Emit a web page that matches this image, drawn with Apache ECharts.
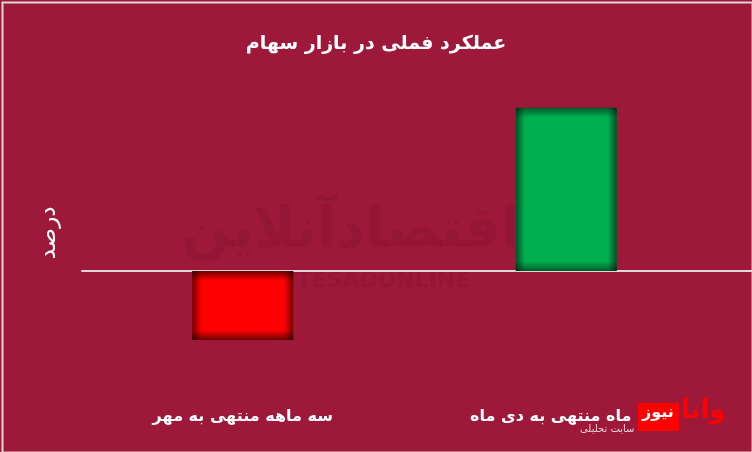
<!DOCTYPE html>
<html><head><meta charset="utf-8">
<script src="https://cdn.jsdelivr.net/npm/echarts@6/dist/echarts.min.js"></script>
<style>html,body{margin:0;padding:0;background:#9E183A}#c{width:752px;height:452px}</style>
</head><body><div id="c"></div>
<script>
const titleText = 'عملکرد فملی در بازار سهام';
const yName = 'درصد';
const categories = ['سه ماهه منتهی به مهر', 'سه ماه منتهی به دی ماه'];
const values = [-20, 47.3];
const yMin = -38, yMax = 60;

const FONT = 'DejaVu Sans';
function baseStyle(v) {
  const bright = v >= 0 ? '#00B050' : '#FF0000';
  const dark = v >= 0 ? '#005A28' : '#6E0000';
  const e = v >= 0 ? 0.06 : 0.14;
  return { color: { type: 'linear', x: 0, y: 0, x2: 0, y2: 1, colorStops: [
    { offset: 0, color: dark }, { offset: e, color: bright },
    { offset: 1 - e, color: bright }, { offset: 1, color: dark }] } };
}
const overlay = { type: 'linear', x: 0, y: 0, x2: 1, y2: 0, colorStops: [
  { offset: 0, color: 'rgba(0,0,0,0.55)' }, { offset: 0.09, color: 'rgba(0,0,0,0)' },
  { offset: 0.91, color: 'rgba(0,0,0,0)' }, { offset: 1, color: 'rgba(0,0,0,0.55)' }] };

const chart = echarts.init(document.getElementById('c'));
chart.setOption({
  backgroundColor: '#9E183A',
  animation: false,
  title: { text: titleText, left: 'center', top: 30,
    textStyle: { color: '#fff', fontSize: 19, fontWeight: 'bold', fontFamily: FONT } },
  grid: [
    { left: 81, right: 24, top: 64, bottom: 50 },
    { left: 82, right: 0, top: 64, bottom: 50 }
  ],
  xAxis: [
    { type: 'category', data: categories, gridIndex: 0,
      axisLine: { show: false }, axisTick: { show: false },
      axisLabel: { color: '#fff', fontSize: 16, fontWeight: 'bold', fontFamily: FONT, margin: 7 } },
    { type: 'category', data: ['a'], gridIndex: 1,
      axisLine: { show: true, onZero: true, lineStyle: { color: '#D9D9D9', width: 2 } },
      axisTick: { show: false }, axisLabel: { show: false } }
  ],
  yAxis: [
    { type: 'value', gridIndex: 0, min: yMin, max: yMax,
      name: yName, nameLocation: 'middle', nameRotate: 90, nameGap: 20,
      nameTextStyle: { color: '#fff', fontSize: 23, fontFamily: FONT },
      axisLine: { show: false }, axisTick: { show: false }, axisLabel: { show: false }, splitLine: { show: false } },
    { type: 'value', gridIndex: 1, min: yMin, max: yMax,
      axisLine: { show: false }, axisTick: { show: false }, axisLabel: { show: false }, splitLine: { show: false } }
  ],
  series: [
    { type: 'bar', xAxisIndex: 0, yAxisIndex: 0, barWidth: 101, barGap: '-100%', z: 2,
      data: values.map(v => ({ value: v, itemStyle: baseStyle(v) })) },
    { type: 'bar', xAxisIndex: 0, yAxisIndex: 0, barWidth: 101, barGap: '-100%', z: 3,
      itemStyle: { color: overlay }, data: values.slice() }
  ],
  graphic: [
    { type: 'rect', left: 0, top: 0, z: 100, silent: true,
      shape: { x: 1, y: 1, width: 750, height: 450 },
      style: { fill: 'none', stroke: '#D9D9D9', lineWidth: 2 } },
    { type: 'text', left: 182, top: 204, z: 0, silent: true,
      style: { text: 'اقتصادآنلاین', font: 'bold 56px "DejaVu Sans"', fill: 'rgba(60,0,20,0.09)' } },
    { type: 'text', left: 245, top: 270, z: 0, silent: true,
      style: { text: 'EGHTESADONLINE', font: 'bold 22px "DejaVu Sans"', fill: 'rgba(60,0,20,0.09)' } },
    { type: 'rect', left: 638, top: 403, z: 50, silent: true,
      shape: { width: 41, height: 28 }, style: { fill: '#FF0000' } },
    { type: 'text', left: 642, top: 405, z: 51, silent: true,
      style: { text: 'نیوز', font: 'bold 16px "DejaVu Sans"', fill: '#fff' } },
    { type: 'text', left: 681, top: 398, z: 51, silent: true,
      style: { text: 'وانا', font: 'bold 26px "DejaVu Sans"', fill: '#FF0000' } },
    { type: 'text', left: 580, top: 424, z: 51, silent: true,
      style: { text: 'سایت تحلیلی', font: '10px "DejaVu Sans"', fill: 'rgba(255,255,255,0.8)' } }
  ]
});
</script></body></html>
